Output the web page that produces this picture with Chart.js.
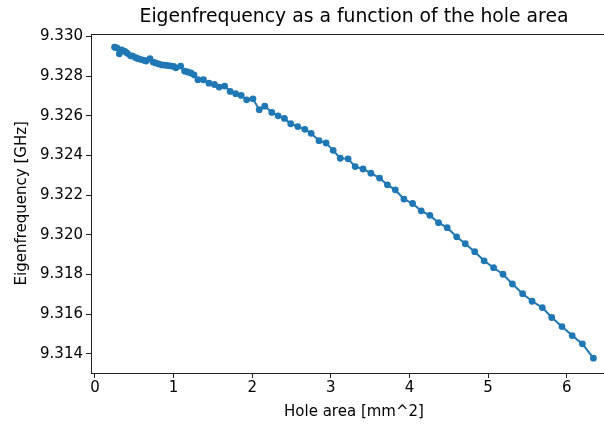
<!DOCTYPE html>
<html>
<head>
<meta charset="utf-8">
<script src="https://cdn.jsdelivr.net/npm/chart.js@4/dist/chart.umd.min.js"></script>
<style>
  html, body { margin: 0; padding: 0; background: #fff; overflow: hidden; width: 604px; height: 429px; }
  #chart { display: block; }
</style>
</head>
<body>
<!-- canvas runs a little past the window so the right spine is cut off, as in the source figure -->
<canvas id="chart" width="617" height="429"></canvas>
<script>
var holeArea = [
  0.25, 0.28, 0.31, 0.34, 0.38, 0.41, 0.45, 0.48, 0.52, 0.55,
  0.59, 0.63, 0.65, 0.70, 0.74, 0.77, 0.81, 0.85, 0.88, 0.92,
  0.96, 1.00, 1.03, 1.09, 1.14, 1.18, 1.22, 1.26, 1.31, 1.38,
  1.45, 1.52, 1.58, 1.65, 1.72, 1.79, 1.86, 1.93, 2.01, 2.09,
  2.16, 2.25, 2.33, 2.41, 2.49, 2.58, 2.67, 2.75, 2.85, 2.94,
  3.03, 3.12, 3.22, 3.31, 3.41, 3.51, 3.62, 3.72, 3.82, 3.93,
  4.04, 4.15, 4.26, 4.37, 4.48, 4.60, 4.71, 4.83, 4.95, 5.07,
  5.19, 5.31, 5.44, 5.56, 5.69, 5.81, 5.94, 6.07, 6.20, 6.34
];
var eigenfrequency = [
  9.32946, 9.32943, 9.32913, 9.32933, 9.32925, 9.32916, 9.32904, 9.32901, 9.32893, 9.32888,
  9.32884, 9.32879, 9.32876, 9.32888, 9.32871, 9.32867, 9.32862, 9.32857, 9.32856, 9.32854,
  9.32852, 9.32849, 9.32842, 9.32851, 9.32826, 9.32821, 9.32816, 9.32807, 9.32782, 9.32782,
  9.32765, 9.32758, 9.32745, 9.32750, 9.32723, 9.32712, 9.32703, 9.32681, 9.32686, 9.32631,
  9.32649, 9.32617, 9.32600, 9.32587, 9.32560, 9.32546, 9.32532, 9.32512, 9.32475, 9.32463,
  9.32426, 9.32386, 9.32383, 9.32344, 9.32332, 9.32311, 9.32286, 9.32252, 9.32227, 9.32180,
  9.32158, 9.32121, 9.32098, 9.32061, 9.32036, 9.31990, 9.31955, 9.31915, 9.31869, 9.31834,
  9.31801, 9.31752, 9.31703, 9.31665, 9.31633, 9.31583, 9.31537, 9.31492, 9.31450, 9.31378
];
var xTicks = [0, 1, 2, 3, 4, 5, 6];
var yTicks = [9.314, 9.316, 9.318, 9.320, 9.322, 9.324, 9.326, 9.328, 9.330];

var points = holeArea.map(function (x, i) {
  return { x: x, y: eigenfrequency[i] };
});

// box round the plot like matplotlib spines
var frame = {
  id: "frame",
  afterDraw: function (chart) {
    var a = chart.chartArea;
    var c = chart.ctx;
    c.save();
    c.strokeStyle = "#222";
    c.lineWidth = 1;
    c.strokeRect(Math.round(a.left) + 0.5, Math.round(a.top) + 0.5,
      Math.round(a.right - a.left) - 1, Math.round(a.bottom - a.top));
    c.restore();
  },
};

Chart.defaults.font.family = "'DejaVu Sans', sans-serif";
Chart.defaults.color = "#000";

new Chart(document.getElementById("chart"), {
  type: "scatter",
  data: {
    datasets: [
      {
        data: points,
        showLine: true,
        borderColor: "#1f77b4",
        backgroundColor: "#1f77b4",
        borderWidth: 2,
        pointRadius: 3.4,
        pointBorderWidth: 0,
      },
    ],
  },
  options: {
    responsive: false,
    animation: false,
    layout: { autoPadding: false, padding: 0 },
    plugins: {
      legend: { display: false },
      tooltip: { enabled: false },
      title: {
        display: true,
        fullSize: false,
        text: "Eigenfrequency as a function of the hole area",
        font: { size: 18.8, weight: "normal" },
        color: "#000",
        padding: { top: 6, bottom: 5 },
      },
    },
    scales: {
      x: {
        type: "linear",
        min: -0.05,
        max: 6.64,
        afterBuildTicks: function (scale) {
          scale.ticks = xTicks.map(function (v) { return { value: v }; });
        },
        afterFit: function (scale) {
          scale.height = 56;
          scale.paddingLeft = 0;
          scale.paddingRight = 0;
        },
        ticks: {
          font: { size: 15 },
          color: "#000",
          padding: 1,
          maxRotation: 0,
        },
        grid: {
          drawOnChartArea: false,
          tickLength: 5,
          tickColor: "#222",
        },
        border: { display: false },
        title: {
          display: true,
          text: "Hole area [mm^2]",
          font: { size: 15 },
          color: "#000",
          padding: { top: 0, bottom: 8 },
        },
      },
      y: {
        type: "linear",
        min: 9.31303,
        max: 9.33015,
        afterBuildTicks: function (scale) {
          scale.ticks = yTicks.map(function (v) { return { value: v }; });
        },
        afterFit: function (scale) {
          scale.width = 91;
          scale.paddingTop = 0;
          scale.paddingBottom = 0;
        },
        ticks: {
          font: { size: 15 },
          color: "#000",
          padding: 3,
          callback: function (v) { return v.toFixed(3); },
        },
        grid: {
          drawOnChartArea: false,
          tickLength: 5,
          tickColor: "#222",
        },
        border: { display: false },
        title: {
          display: true,
          text: "Eigenfrequency [GHz]",
          font: { size: 15 },
          color: "#000",
          padding: { top: 13, bottom: 0 },
        },
      },
    },
  },
  plugins: [frame],
});
</script>
</body>
</html>
